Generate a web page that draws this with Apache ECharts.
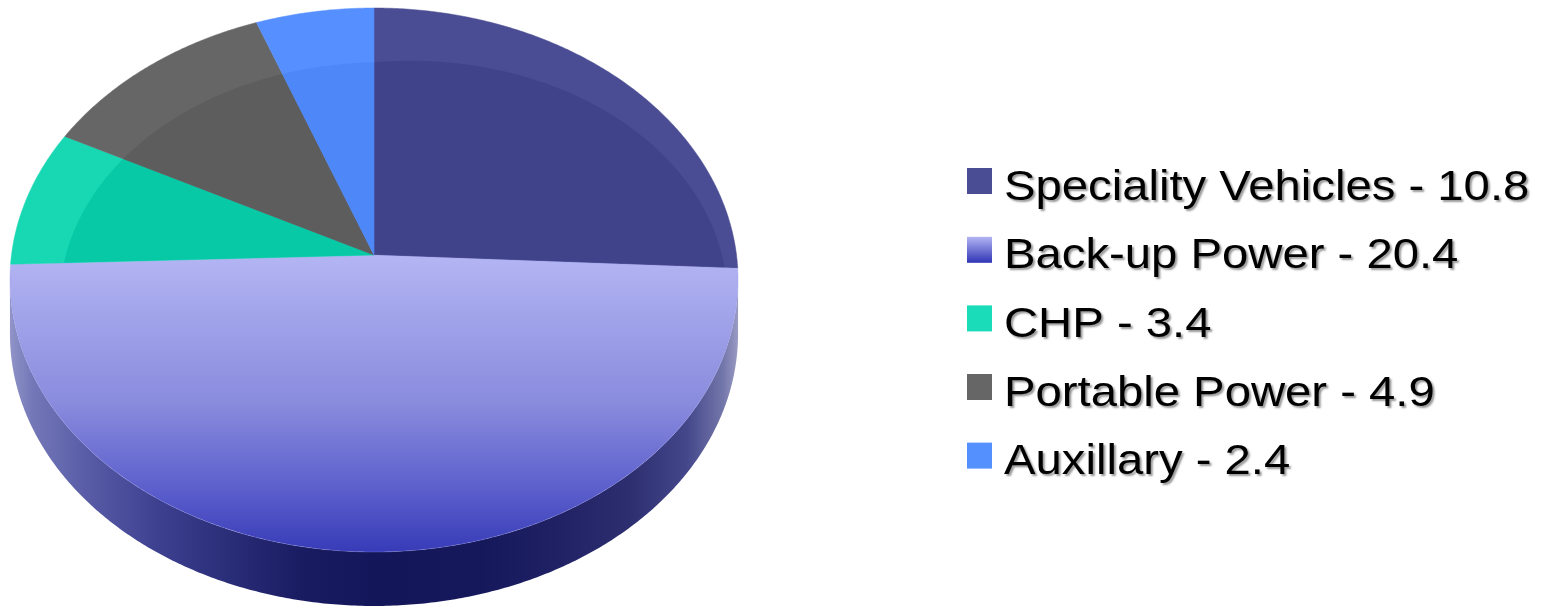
<!DOCTYPE html>
<html>
<head>
<meta charset="utf-8">
<script src="https://cdn.jsdelivr.net/npm/echarts@6/dist/echarts.min.js"></script>
<style>
html,body{margin:0;padding:0;background:#ffffff;}
#chart{width:1550px;height:608px;}
</style>
</head>
<body>
<div id="chart"></div>
<script>
// ---- data ----
const categories = ['Speciality Vehicles', 'Back-up Power', 'CHP', 'Portable Power', 'Auxillary'];
const values = [10.8, 20.4, 3.4, 4.9, 2.4];
const legendLabels = categories.map((c, i) => c + ' - ' + values[i]);

// ---- styles / geometry ----
const CX = 374, CY = 255, RA = 362.5, RB = 269.7, P = 0.0919, H = 54;
const rimColors   = ['#4a4d93', null, '#18d7b3', '#666666', '#568fff'];
const innerColors = ['#40438a', null, '#07c9a6', '#5d5d5d', '#4d87f8'];
const G = echarts.graphic;
const backupTop = new G.LinearGradient(0, CY, 0, CY + 297, [
  {offset: 0, color: '#b3b5f3'},
  {offset: 0.5, color: '#898bdd'},
  {offset: 0.8, color: '#5a5dcb'},
  {offset: 1, color: '#373bb7'}
], true);
const wallGrad = new G.LinearGradient(CX - 364, 0, CX + 364, 0, [
  {offset: 0, color: '#9094c8'},
  {offset: 0.03, color: '#7478b8'},
  {offset: 0.1, color: '#5a5ea8'},
  {offset: 0.2, color: '#3d4190'},
  {offset: 0.3, color: '#2a2d78'},
  {offset: 0.4, color: '#1a1c62'},
  {offset: 0.5, color: '#14165a'},
  {offset: 0.65, color: '#16185c'},
  {offset: 0.75, color: '#1f2164'},
  {offset: 0.85, color: '#2c2e70'},
  {offset: 0.93, color: '#44478a'},
  {offset: 0.98, color: '#7477aa'},
  {offset: 1, color: '#9a9cc4'}
], true);
const legendColors = [
  '#4a4d93',
  {type: 'linear', x: 0, y: 0, x2: 0, y2: 1, colorStops: [{offset: 0, color: '#b3b5f3'}, {offset: 1, color: '#2f34b5'}]},
  '#1adcb8', '#666666', '#5590ff'
];

function proj(th, r, dy) {
  const u = r * Math.sin(th), v = -r * Math.cos(th);
  const d = 1 - P * v;
  return [CX + RA * u / d, CY + dy + RB * v / d];
}
function innerT(th) {
  const s = Math.sin(th);
  return 0.87 - 0.09 * Math.cos(th) + (s > 0 ? 0.09 : 0.02) * s;
}
function arcPts(a0, a1, dy, inner) {
  const n = Math.max(2, Math.ceil(Math.abs(a1 - a0) / (Math.PI / 360)));
  const pts = [];
  for (let k = 0; k <= n; k++) {
    const th = a0 + (a1 - a0) * k / n;
    const p = proj(th, 1, dy);
    if (inner) {
      const t = innerT(th);
      pts.push([CX + t * (p[0] - CX), CY + t * (p[1] - CY)]);
    } else pts.push(p);
  }
  return pts;
}

const total = values.reduce((s, v) => s + v, 0);

function renderItem(params, api) {
  const i = params.dataIndex;
  let before = 0;
  for (let j = 0; j < i; j++) before += values[j];
  const v = api.value(0);
  const a0 = before / total * Math.PI * 2;
  const a1 = (before + v) / total * Math.PI * 2;
  const children = [];
  // side wall (visible front part only)
  const thL = Math.acos(-P), thR = Math.PI * 2 - Math.acos(-P);
  const w0 = Math.max(a0, thL), w1 = Math.min(a1, thR);
  if (w1 > w0) {
    const top = arcPts(w0, w1, 0, false);
    const bot = arcPts(w1, w0, H, false);
    children.push({type: 'polygon', shape: {points: top.concat(bot)}, style: {fill: wallGrad}});
  }
  const outer = [[CX, CY]].concat(arcPts(a0, a1, 0, false));
  if (rimColors[i]) {
    children.push({type: 'polygon', shape: {points: outer}, style: {fill: rimColors[i], stroke: rimColors[i], lineWidth: 0.5}});
    const inn = [[CX, CY]].concat(arcPts(a0, a1, 0, true));
    children.push({type: 'polygon', shape: {points: inn}, style: {fill: innerColors[i]}});
  } else {
    children.push({type: 'polygon', shape: {points: outer}, style: {fill: backupTop, stroke: 'rgba(150,152,230,0.6)', lineWidth: 0.5}});
  }
  return {type: 'group', children: children};
}

// legend built from data
const rowCenters = [188, 256.8, 325.4, 394, 462.6];
const legendEls = [];
legendLabels.forEach((lab, i) => {
  legendEls.push({
    type: 'rect', shape: {x: 967, y: rowCenters[i] - 20, width: 25, height: 26},
    style: {fill: legendColors[i]}, silent: true
  });
  legendEls.push({
    type: 'text', x: 1004, y: rowCenters[i], scaleX: 1.125, silent: true,
    style: {
      text: lab, x: 0, y: 0, fill: '#000000',
      font: '42px "Liberation Sans", Arial, sans-serif',
      verticalAlign: 'middle', align: 'left',
      textShadowColor: 'rgba(0,0,0,0.4)', textShadowBlur: 2,
      textShadowOffsetX: 2, textShadowOffsetY: 2
    }
  });
});

const chart = echarts.init(document.getElementById('chart'), null, {renderer: 'canvas'});
chart.setOption({
  animation: false,
  backgroundColor: '#ffffff',
  series: [{
    type: 'custom',
    coordinateSystem: 'none',
    silent: true,
    renderItem: renderItem,
    data: values.map((v, i) => ({name: categories[i], value: [v]}))
  }],
  graphic: legendEls
});
</script>
</body>
</html>
